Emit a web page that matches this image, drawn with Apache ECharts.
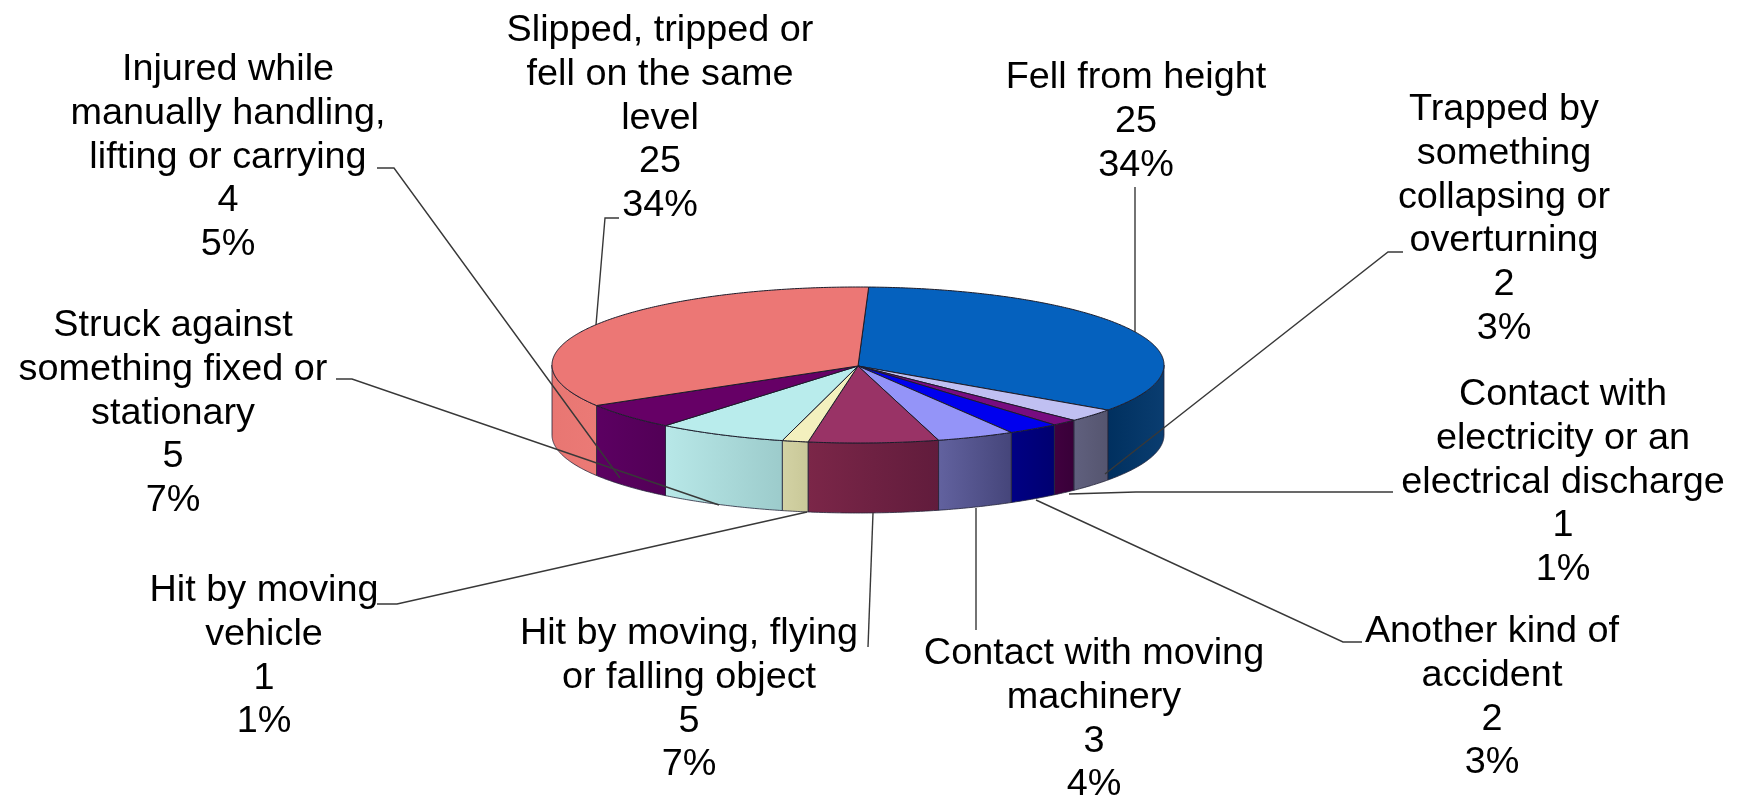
<!DOCTYPE html>
<html>
<head>
<meta charset="utf-8">
<style>html,body{margin:0;padding:0;background:#fff}#c{width:1738px;height:798px}</style>
<script src="https://cdn.jsdelivr.net/npm/echarts@6/dist/echarts.min.js"></script>
</head>
<body>
<div id="c"></div>
<script>
// ---- chart data ----
var categories = [
  'Fell from height',
  'Trapped by something collapsing or overturning',
  'Contact with electricity or an electrical discharge',
  'Another kind of accident',
  'Contact with moving machinery',
  'Hit by moving, flying or falling object',
  'Hit by moving vehicle',
  'Struck against something fixed or stationary',
  'Injured while manually handling, lifting or carrying',
  'Slipped, tripped or fell on the same level'
];
var values = [25, 2, 1, 2, 3, 5, 1, 5, 4, 25];
var wrappedNames = [
  ['Fell from height'],
  ['Trapped by', 'something', 'collapsing or', 'overturning'],
  ['Contact with', 'electricity or an', 'electrical discharge'],
  ['Another kind of', 'accident'],
  ['Contact with moving', 'machinery'],
  ['Hit by moving, flying', 'or falling object'],
  ['Hit by moving', 'vehicle'],
  ['Struck against', 'something fixed or', 'stationary'],
  ['Injured while', 'manually handling,', 'lifting or carrying'],
  ['Slipped, tripped or', 'fell on the same', 'level']
];

// ---- styles ----
var topColors = ['#0561BE', '#C0C0F2', '#780C80', '#0000EE', '#9494F8', '#993366', '#F3F0BE', '#B9ECEC', '#660066', '#EC7775'];
var sideFrom  = ['#00305F', '#60607E', '#40003F', '#000084', '#62629F', '#7B2648', '#D3D2A4', '#B8E8E8', '#5C0062', '#E87672'];
var sideTo    = ['#0A3D70', '#55556F', '#380038', '#000070', '#45457A', '#611C3C', '#C9C898', '#9CCBCB', '#520056', '#EB7A76'];

// ---- layout (pixels) ----
var pie = { cx: 858, cy: 365, rx: 306, ry: 78, depth: 70, startDeg: 2 };
var labelCenters = [
  [1136, 56], [1504, 88], [1563, 373], [1492, 610], [1094, 632],
  [689, 612], [264, 569], [173, 304], [228, 48], [660, 9]
];
var leaders = [
  [[1135, 187], [1135, 332]],
  [[1403, 252], [1388, 252], [1105, 474]],
  [[1393, 492], [1136, 492], [1069, 494]],
  [[1362, 642], [1343, 642], [1036, 500]],
  [[976, 630], [976, 508]],
  [[868, 647], [873, 513]],
  [[377, 604], [397, 604], [807, 512]],
  [[336, 379], [352, 379], [719, 505]],
  [[377, 168], [394, 168], [620, 478]],
  [[619, 218], [605, 218], [596, 325]]
];
var fontSize = 37.8, lineHeight = 43.7;

var total = values.reduce(function (a, b) { return a + b; }, 0);

function rim(deg, dy) {
  var t = deg * Math.PI / 180;
  return [pie.cx + pie.rx * Math.sin(t), pie.cy - pie.ry * Math.cos(t) + (dy || 0)];
}
function arcPoints(a, b, dy) {
  var pts = [], n = Math.max(2, Math.ceil(Math.abs(b - a) * 2));
  for (var i = 0; i <= n; i++) pts.push(rim(a + (b - a) * i / n, dy));
  return pts;
}

function renderItem(params, api) {
  var i = params.dataIndex, v = api.value(0), before = 0;
  for (var k = 0; k < i; k++) before += values[k];
  var a = pie.startDeg + before / total * 360;
  var b = a + v / total * 360;
  var children = [];

  // outer wall: only the part of the rim that faces the viewer (90..270 deg)
  var wa = Math.max(a, 90), wb = Math.min(b, 270);
  if (wb > wa) {
    var top = arcPoints(wa, wb, 0), bot = arcPoints(wa, wb, pie.depth).reverse();
    children.push({
      type: 'polygon',
      shape: { points: top.concat(bot) },
      style: {
        fill: new echarts.graphic.LinearGradient(0, 0, 1, 0, [
          { offset: 0, color: sideFrom[i] }, { offset: 1, color: sideTo[i] }
        ]),
        stroke: '#24243a', lineWidth: 0.8
      }
    });
  }
  // top face
  children.push({
    type: 'polygon',
    shape: { points: [[pie.cx, pie.cy + 1]].concat(arcPoints(a, b, 0)) },
    style: { fill: topColors[i], stroke: '#1c1c2a', lineWidth: 1 }
  });
  return { type: 'group', children: children };
}

function renderLabel(params, api) {
  var i = params.dataIndex, v = api.value(0);
  var pct = Math.round(v / total * 100) + '%';
  var text = wrappedNames[i].concat([String(v), pct]).join('\n');
  return {
    type: 'group',
    children: [
      { type: 'polyline', shape: { points: leaders[i] },
        style: { fill: 'none', stroke: '#383838', lineWidth: 1.4 } },
      { type: 'text', x: labelCenters[i][0], y: labelCenters[i][1],
        style: { text: text, textAlign: 'center', textVerticalAlign: 'top',
          fontFamily: '"Liberation Sans", Arial, sans-serif', fontSize: fontSize,
          lineHeight: lineHeight, fill: '#000' } }
    ]
  };
}

var seriesData = values.map(function (v, i) { return { name: categories[i], value: [v] }; });

var chart = echarts.init(document.getElementById('c'), null, { renderer: 'canvas' });
chart.setOption({
  animation: false,
  backgroundColor: '#fff',
  series: [
    { type: 'custom', coordinateSystem: 'none', renderItem: renderItem, data: seriesData, silent: true, z: 1 },
    { type: 'custom', coordinateSystem: 'none', renderItem: renderLabel, data: seriesData, silent: true, z: 2 }
  ]
});
</script>
</body>
</html>
